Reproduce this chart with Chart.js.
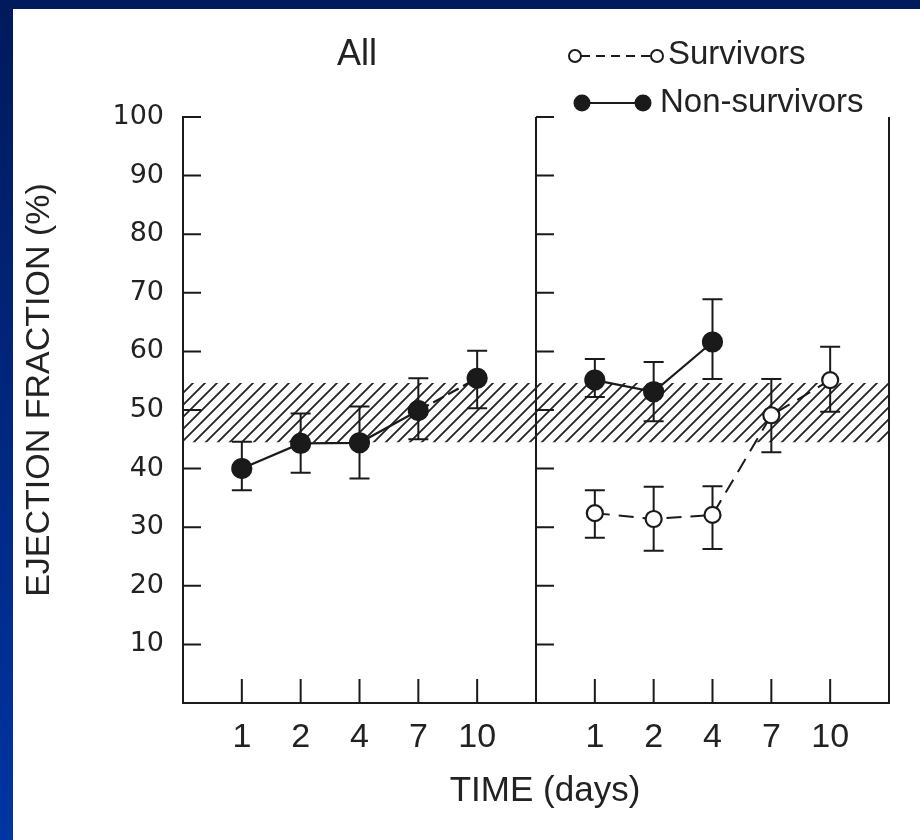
<!DOCTYPE html>
<html>
<head>
<meta charset="utf-8">
<script src="https://cdn.jsdelivr.net/npm/chart.js@4.4.1/dist/chart.umd.min.js"></script>
<style>
  html, body { margin: 0; padding: 0; }
  body { width: 920px; height: 840px; position: relative; overflow: hidden; background: linear-gradient(#001a5c, #0035a3); }
  #papel { position: absolute; left: 13px; top: 9px; right: 0; bottom: 0; background: #fff; }
  #grafico { position: absolute; left: 0; top: 0; }
</style>
</head>
<body>
<div id="papel"></div>
<canvas id="grafico" width="920" height="840"></canvas>
<script>
// Dados
const dias = ['1', '2', '4', '7', '10'];

const todosMedia = [40, 44.3, 44.4, 49.9, 55.4];
const todosBaixo = [36.3, 39.3, 38.3, 45, 50.3];
const todosAlto  = [44.6, 49.4, 50.6, 55.4, 60.1];

const naoSobrevMedia = [55.1, 53.1, 61.6, null, null];
const naoSobrevBaixo = [52.2, 48.1, 55.3, null, null];
const naoSobrevAlto  = [58.7, 58.2, 68.9, null, null];

const sobrevMedia = [32.4, 31.4, 32.1, 49.1, 55.1];
const sobrevBaixo = [28.2, 26, 26.3, 42.8, 49.7];
const sobrevAlto  = [36.3, 36.9, 37, 55.3, 60.8];

const faixaNormal = [44.5, 54.6];
const marcasY = [10, 20, 30, 40, 50, 60, 70, 80, 90, 100];

// Posições no eixo x: painel "All" (1..5), painel direito (7..11)
const posEsquerda = dias.map((d, i) => i + 1);
const posDireita  = dias.map((d, i) => i + 7);
const rotulosX = {};
posEsquerda.forEach((p, i) => rotulosX[p] = dias[i]);
posDireita.forEach((p, i) => rotulosX[p] = dias[i]);

const pontos = (posicoes, valores) =>
  posicoes.map((x, i) => ({ x: x, y: valores[i] })).filter(p => p.y !== null);

const PRETO = '#1a1a1a';
const contexto = document.getElementById('grafico').getContext('2d');

// Hachura da faixa normal
const ladrilho = document.createElement('canvas');
ladrilho.width = 12; ladrilho.height = 12;
const lc = ladrilho.getContext('2d');
lc.strokeStyle = '#222';
lc.lineWidth = 1.8;
lc.beginPath();
lc.moveTo(0, 12); lc.lineTo(12, 0);
lc.moveTo(-6, 6); lc.lineTo(6, -6);
lc.moveTo(6, 18); lc.lineTo(18, 6);
lc.stroke();
const hachura = contexto.createPattern(ladrilho, 'repeat');

// Barras de erro
const barrasErro = [
  { pos: posEsquerda, baixo: todosBaixo, alto: todosAlto },
  { pos: posDireita,  baixo: naoSobrevBaixo, alto: naoSobrevAlto },
  { pos: posDireita,  baixo: sobrevBaixo, alto: sobrevAlto }
];

const pluginErros = {
  id: 'erros',
  afterDatasetDraw(chart, args) {
    if (args.index !== 3) return;
    const { x: escX, y: escY } = chart.scales;
    const c = chart.ctx;
    c.save();
    c.strokeStyle = PRETO;
    c.lineWidth = 2;
    barrasErro.forEach(serie => {
      serie.pos.forEach((p, i) => {
        if (serie.baixo[i] === null) return;
        const px = escX.getPixelForValue(p);
        const y1 = escY.getPixelForValue(serie.baixo[i]);
        const y2 = escY.getPixelForValue(serie.alto[i]);
        c.beginPath();
        c.moveTo(px, y1); c.lineTo(px, y2);
        c.moveTo(px - 10, y1); c.lineTo(px + 10, y1);
        c.moveTo(px - 10, y2); c.lineTo(px + 10, y2);
        c.stroke();
      });
    });
    c.restore();
  }
};

// Marcas internas dos eixos, títulos e legenda
const pluginTextos = {
  id: 'textos',
  afterDraw(chart) {
    const { x: escX, y: escY } = chart.scales;
    const c = chart.ctx;
    const base = escY.getPixelForValue(0);
    c.save();
    c.strokeStyle = PRETO;
    c.lineWidth = 2;
    c.beginPath();
    [0, 6].forEach(eixo => {
      const px = escX.getPixelForValue(eixo);
      marcasY.forEach(v => {
        const py = escY.getPixelForValue(v);
        c.moveTo(px, py); c.lineTo(px + 18, py);
      });
    });
    posEsquerda.concat(posDireita).forEach(p => {
      const px = escX.getPixelForValue(p);
      c.moveTo(px, base); c.lineTo(px, base - 24);
    });
    c.stroke();

    c.fillStyle = '#222';
    c.textAlign = 'center';
    c.textBaseline = 'middle';
    c.font = '36px "Liberation Sans"';
    c.fillText('All', 357, 55);
    c.font = '35px "Liberation Sans"';
    c.fillText('TIME (days)', 545, 791);

    c.save();
    c.translate(40, 390);
    c.rotate(-Math.PI / 2);
    c.font = '34px "Liberation Sans"';
    c.fillText('EJECTION FRACTION (%)', 0, 0);
    c.restore();

    // Legenda
    c.textAlign = 'left';
    c.font = '33px "Liberation Sans"';
    c.fillText('Survivors', 668, 55);
    c.fillText('Non-survivors', 660, 103);

    c.lineWidth = 2;
    c.setLineDash([9, 6]);
    c.beginPath(); c.moveTo(581, 56); c.lineTo(651, 56); c.stroke();
    c.setLineDash([]);
    [575, 657].forEach(cx => {
      c.beginPath(); c.arc(cx, 56, 6, 0, Math.PI * 2);
      c.fillStyle = '#fff'; c.fill(); c.stroke();
    });
    c.beginPath(); c.moveTo(582, 103); c.lineTo(643, 103); c.stroke();
    c.fillStyle = PRETO;
    [582, 643].forEach(cx => {
      c.beginPath(); c.arc(cx, 103, 8.5, 0, Math.PI * 2); c.fill();
    });
    c.restore();
  }
};

const grafico = new Chart(contexto, {
  type: 'line',
  data: { datasets: [
    {
      label: 'Survivors',
      data: pontos(posDireita, sobrevMedia),
      borderColor: PRETO,
      borderWidth: 2,
      borderDash: [15, 9],
      pointRadius: 8,
      pointBorderWidth: 2.2,
      pointBackgroundColor: '#fff',
      pointBorderColor: PRETO,
      tension: 0,
      fill: false
    },
    {
      label: 'Non-survivors',
      data: pontos(posDireita, naoSobrevMedia),
      borderColor: PRETO,
      borderWidth: 2.2,
      pointRadius: 9.5,
      pointBackgroundColor: PRETO,
      pointBorderColor: PRETO,
      tension: 0,
      fill: false
    },
    {
      label: 'All',
      data: pontos(posEsquerda, todosMedia),
      borderColor: PRETO,
      borderWidth: 2.2,
      segment: { borderDash: s => s.p0DataIndex === 3 ? [12, 5] : undefined },
      pointRadius: 9.5,
      pointBackgroundColor: PRETO,
      pointBorderColor: PRETO,
      tension: 0,
      fill: false
    },
    {
      label: 'Normal (topo)',
      data: [{ x: 0, y: faixaNormal[1] }, { x: 12, y: faixaNormal[1] }],
      borderWidth: 0,
      pointRadius: 0,
      fill: false
    },
    {
      label: 'Normal (base)',
      data: [{ x: 0, y: faixaNormal[0] }, { x: 12, y: faixaNormal[0] }],
      borderWidth: 0,
      pointRadius: 0,
      backgroundColor: hachura,
      fill: '-1'
    }
  ]},
  options: {
    responsive: false,
    animation: false,
    layout: { padding: { top: 117, right: 31, left: 0, bottom: 0 } },
    plugins: { legend: { display: false }, tooltip: { enabled: false } },
    scales: {
      x: {
        type: 'linear', min: 0, max: 12,
        afterFit: escala => { escala.height = 137; },
        border: { display: true, color: PRETO, width: 2 },
        grid: {
          drawTicks: false,
          lineWidth: 2,
          color: ctx => (ctx.tick && (ctx.tick.value === 6 || ctx.tick.value === 12)) ? PRETO : 'rgba(0,0,0,0)'
        },
        ticks: {
          stepSize: 1, autoSkip: false, maxRotation: 0, padding: 14,
          color: '#222',
          font: { family: '"Liberation Sans Narrow", "Arial Narrow", sans-serif', size: 34 },
          callback: valor => rotulosX[valor] || ''
        }
      },
      y: {
        min: 0, max: 100,
        afterFit: escala => { escala.width = 183; },
        border: { display: true, color: PRETO, width: 2 },
        grid: { display: false, drawTicks: false },
        ticks: {
          stepSize: 10, padding: 19,
          color: '#222',
          font: { family: '"DejaVu Sans"', size: 27 },
          callback: valor => valor === 0 ? '' : valor
        }
      }
    }
  },
  plugins: [pluginErros, pluginTextos]
});
</script>
</body>
</html>
